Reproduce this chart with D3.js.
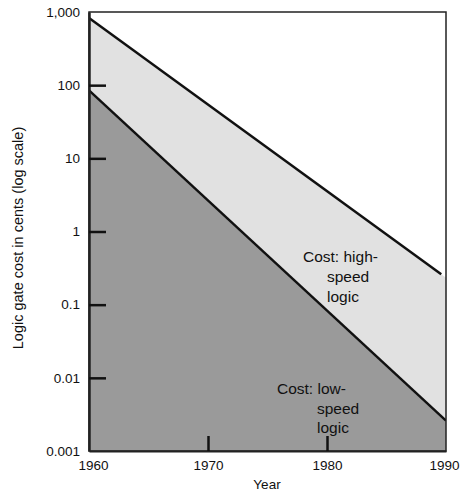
<!DOCTYPE html>
<html>
<head>
<meta charset="utf-8">
<script src="https://cdn.jsdelivr.net/npm/d3@7"></script>
<style>
  body { margin: 0; background: #fff; }
  text { font-family: "Liberation Sans", Arial, sans-serif; fill: #111; }
</style>
</head>
<body>
<div id="chart"></div>
<script>
// data
var years = [1960, 1989.6];
var highSpeed = [830, 0.26];
var lowYears = [1960, 1990];
var lowSpeed = [85, 0.0026];
var yTicks = [0.001, 0.01, 0.1, 1, 10, 100, 1000];
var yTickLabels = ["0.001", "0.01", "0.1", "1", "10", "100", "1,000"];
var xTicks = [1960, 1970, 1980, 1990];

var width = 461,
    height = 491;
var margin = {top: 12, right: 15, bottom: 40, left: 89};

var svg = d3.select("#chart")
    .append("svg")
    .attr("width", width)
    .attr("height", height);

var x = d3.scaleLinear()
    .domain([1960, 1990])
    .range([margin.left, width - margin.right]);

var y = d3.scaleLog()
    .domain([0.001, 1000])
    .range([height - margin.bottom, margin.top]);

// clip to the plot box
svg.append("clipPath").attr("id", "box")
    .append("rect")
    .attr("x", x(1960)).attr("y", y(1000))
    .attr("width", x(1990) - x(1960))
    .attr("height", y(0.001) - y(1000));

var g = svg.append("g").attr("clip-path", "url(#box)");

// extend the high-speed line to the frame for the fill
var slopeHi = (Math.log10(highSpeed[1]) - Math.log10(highSpeed[0])) / (years[1] - years[0]);
var hiAt1990 = Math.pow(10, Math.log10(highSpeed[0]) + slopeHi * (1990 - years[0]));

// light band: under high-speed line
g.append("path")
    .attr("d", d3.area()
        .x(function(d) { return x(d[0]); })
        .y0(y(0.001))
        .y1(function(d) { return y(d[1]); })([[1960, highSpeed[0]], [1990, hiAt1990]]))
    .attr("fill", "#e1e1e1");

// dark band: under low-speed line
g.append("path")
    .attr("d", d3.area()
        .x(function(d) { return x(d[0]); })
        .y0(y(0.001))
        .y1(function(d) { return y(d[1]); })(lowYears.map(function(v, i) { return [v, lowSpeed[i]]; })))
    .attr("fill", "#9a9a9a");

var line = d3.line()
    .x(function(d) { return x(d[0]); })
    .y(function(d) { return y(d[1]); });

g.append("path")
    .attr("d", line(years.map(function(v, i) { return [v, highSpeed[i]]; })))
    .attr("fill", "none")
    .attr("stroke", "#111")
    .attr("stroke-width", 2.5);

g.append("path")
    .attr("d", line(lowYears.map(function(v, i) { return [v, lowSpeed[i]]; })))
    .attr("fill", "none")
    .attr("stroke", "#111")
    .attr("stroke-width", 2.5);

// frame
svg.append("rect")
    .attr("x", x(1960)).attr("y", y(1000))
    .attr("width", x(1990) - x(1960))
    .attr("height", y(0.001) - y(1000))
    .attr("fill", "none")
    .attr("stroke", "#222")
    .attr("stroke-width", 1.5);

// left axis, ticks pointing inwards
var yAxis = d3.axisLeft(y)
    .tickValues(yTicks)
    .tickFormat(function(d, i) { return yTickLabels[i]; })
    .tickSizeInner(-17)
    .tickSizeOuter(0)
    .tickPadding(9);

var ya = svg.append("g")
    .attr("transform", "translate(" + x(1960) + ",0)")
    .call(yAxis);
ya.select(".domain").attr("stroke", "#222").attr("stroke-width", 2.5);
ya.selectAll(".tick line").attr("stroke", "#111").attr("stroke-width", 2.5);
ya.selectAll(".tick text").attr("font-size", 13.5);
ya.selectAll(".tick").filter(function(d) { return d === 1000 || d === 0.001; }).select("line").remove();

// bottom axis, ticks pointing inwards
var xAxis = d3.axisBottom(x)
    .tickValues(xTicks)
    .tickFormat(d3.format("d"))
    .tickSizeInner(-15)
    .tickSizeOuter(0)
    .tickPadding(9);

var xa = svg.append("g")
    .attr("transform", "translate(0," + y(0.001) + ")")
    .call(xAxis);
xa.select(".domain").attr("stroke", "#222").attr("stroke-width", 2);
xa.selectAll(".tick line").attr("stroke", "#111").attr("stroke-width", 2.5);
xa.selectAll(".tick text").attr("font-size", 13.5)
    .attr("dx", function(d) { return d === 1960 ? 4 : (d === 1990 ? -2 : 0); });
xa.selectAll(".tick").filter(function(d) { return d === 1960 || d === 1990; }).select("line").remove();

// axis titles
svg.append("text")
    .attr("x", 267).attr("y", 489)
    .attr("text-anchor", "middle")
    .attr("font-size", 13.5)
    .text("Year");

svg.append("text")
    .attr("transform", "translate(23,238) rotate(-90)")
    .attr("text-anchor", "middle")
    .attr("font-size", 14.5)
    .text("Logic gate cost in cents (log scale)");

// annotations
function label(xx, yy, lines) {
    var t = svg.append("text").attr("font-size", 15.5);
    lines.forEach(function(l) {
        t.append("tspan").attr("x", xx + l[0]).attr("y", yy + l[1]).text(l[2]);
    });
}
label(303, 262, [[0, 0, "Cost: high-"], [24, 20, "speed"], [24, 40, "logic"]]);
label(277, 394, [[0, 0, "Cost: low-"], [40, 19.5, "speed"], [40, 39, "logic"]]);
</script>
</body>
</html>
